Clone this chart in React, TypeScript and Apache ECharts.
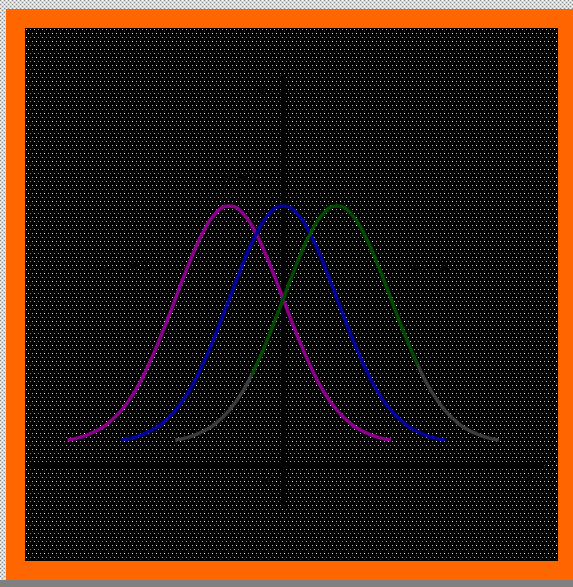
import React, { useEffect, useRef } from "react";
import * as echarts from "echarts";

// Horizontal offsets from each curve's centre (units of x)
const offsets = [-3, -2.75, -2.5, -2.25, -2, -1.75, -1.5, -1.25, -1, -0.75, -0.5, -0.25, 0, 0.25, 0.5, 0.75, 1, 1.25, 1.5, 1.75, 2, 2.25, 2.5, 2.75, 3];
// Curve heights above the x axis line
const heights = [0.042, 0.047, 0.056, 0.070, 0.092, 0.124, 0.168, 0.221, 0.280, 0.339, 0.390, 0.425, 0.437, 0.425, 0.390, 0.339, 0.280, 0.221, 0.168, 0.124, 0.092, 0.070, 0.056, 0.047, 0.042];
const centres = [-1, 0, 1];
const seriesNames = ["μ = −1", "μ = 0", "μ = 1"];
const annotations = ["μ = −1", "μ = 0", "μ = 1"];
// Fraction of the third curve's width where its colour switches gray → green → gray
const greenSpan = [0.235, 0.75];

function makePattern(): string {
  const c = document.createElement("canvas");
  c.width = 8;
  c.height = 8;
  const g = c.getContext("2d")!;
  g.fillStyle = "#000";
  g.fillRect(0, 0, 8, 8);
  const dots: [number, number, string][] = [
    [1, 1, "#c8c8c8"], [5, 1, "#8c8c8c"],
    [3, 5, "#ffffff"], [7, 5, "#a8a8a8"],
    [3, 3, "#2a2a2a"], [7, 7, "#303030"],
  ];
  dots.forEach(([x, y, col]) => {
    g.fillStyle = col;
    g.fillRect(x, y, 1, 1);
  });
  return c.toDataURL();
}

function makeLightPattern(): string {
  const c = document.createElement("canvas");
  c.width = 4;
  c.height = 4;
  const g = c.getContext("2d")!;
  g.fillStyle = "#d8d8d8";
  g.fillRect(0, 0, 4, 4);
  g.fillStyle = "#8a8a8a";
  g.fillRect(0, 0, 1, 1);
  g.fillRect(2, 2, 1, 1);
  g.fillStyle = "#ffffff";
  g.fillRect(2, 0, 1, 1);
  g.fillRect(0, 2, 1, 1);
  return c.toDataURL();
}

export default function App() {
  const ref = useRef<HTMLDivElement>(null);
  const bgRef = useRef<HTMLDivElement>(null);
  const lightRef = useRef<HTMLDivElement>(null);

  useEffect(() => {
    if (bgRef.current) bgRef.current.style.backgroundImage = `url(${makePattern()})`;
    if (lightRef.current) lightRef.current.style.backgroundImage = `url(${makeLightPattern()})`;
    const chart = echarts.init(ref.current!, undefined, { renderer: "svg" });
    const gray = "#3c3c3c";
    const green = "#004a00";
    const greenGrad = new echarts.graphic.LinearGradient(0, 0, 1, 0, [
      { offset: 0, color: gray },
      { offset: greenSpan[0], color: gray },
      { offset: greenSpan[0], color: green },
      { offset: greenSpan[1], color: green },
      { offset: greenSpan[1], color: gray },
      { offset: 1, color: gray },
    ]);
    const colors: any[] = ["#8b008b", "#0000a0", greenGrad];
    const series = centres.map((m, i) => ({
      name: seriesNames[i],
      type: "line",
      smooth: true,
      symbol: "none",
      lineStyle: { width: 3.5, color: colors[i] },
      data: offsets.map((o, k) => [m + o, heights[k]]),
      z: 3 + i,
    }));
    chart.setOption({
      animation: false,
      backgroundColor: "transparent",
      grid: { left: 34, right: 31, top: 75, bottom: 82 },
      xAxis: {
        type: "value",
        min: -4.62,
        max: 4.8,
        axisLine: { show: true, onZero: true, lineStyle: { color: "#000", width: 5 } },
        axisTick: { show: false },
        axisLabel: { show: false },
        splitLine: { show: false },
      },
      yAxis: {
        type: "value",
        min: -0.0675,
        max: 0.658,
        axisLine: { show: true, onZero: true, lineStyle: { color: "#000", width: 4 } },
        axisTick: { show: false },
        axisLabel: { show: false },
        splitLine: { show: false },
      },
      graphic: [
        { type: "text", left: 258, top: 82, style: { text: "y", fill: "#000", font: "14px 'DejaVu Sans'" } },
        { type: "text", left: 525, top: 472, style: { text: "x", fill: "#000", font: "14px 'DejaVu Sans'" } },
        { type: "text", left: 262, top: 472, style: { text: "0", fill: "#000", font: "14px 'DejaVu Sans'" } },
        { type: "text", left: 100, top: 258, style: { text: annotations[0], fill: "#000", font: "14px 'DejaVu Sans'" } },
        { type: "text", left: 222, top: 172, style: { text: annotations[1], fill: "#000", font: "14px 'DejaVu Sans'" } },
        { type: "text", left: 410, top: 258, style: { text: annotations[2], fill: "#000", font: "14px 'DejaVu Sans'" } },
      ],
      series,
    });
    return () => chart.dispose();
  }, []);

  return (
    <div style={{ position: "fixed", left: 0, top: 0, width: 573, height: 587, background: "#808080", overflow: "hidden" }}>
      <div ref={lightRef} style={{ position: "absolute", left: 0, top: 0, width: 573, height: 580, background: "#d8d8d8" }} />
      <div style={{ position: "absolute", left: 6, top: 9, width: 567, height: 571, background: "#ff6600" }} />
      <div ref={bgRef} style={{ position: "absolute", left: 25, top: 28, width: 533, height: 533, background: "#000" }} />
      <div ref={ref} style={{ position: "absolute", left: 0, top: 0, width: 573, height: 587 }} />
    </div>
  );
}
